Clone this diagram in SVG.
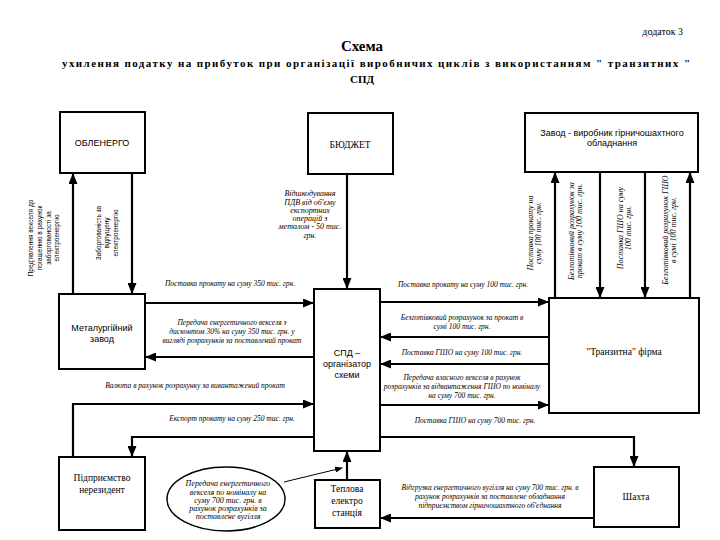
<svg xmlns="http://www.w3.org/2000/svg" width="720" height="540" viewBox="0 0 720 540">
<style>
.box{fill:#fff;stroke:#000;stroke-width:2}
.ln{fill:none;stroke:#000;stroke-width:2.2}
.lbl{font-family:"Liberation Serif",serif;font-style:italic;font-size:7.5px;text-anchor:middle;fill:#000}
.vl{font-family:"Liberation Serif",serif;font-style:italic;font-size:8px;text-anchor:middle;fill:#000}
.vs{font-family:"Liberation Sans",sans-serif;font-size:6.5px;text-anchor:middle;fill:#000}
.nd{font-family:"Liberation Sans",sans-serif;font-size:9px;text-anchor:middle;fill:#000}
.ns{font-family:"Liberation Serif",serif;font-size:9.5px;text-anchor:middle;fill:#000}
.tt{font-family:"Liberation Serif",serif;font-weight:bold;text-anchor:middle;fill:#000}
</style>
<defs>
<marker id="ar" markerUnits="userSpaceOnUse" markerWidth="11" markerHeight="9" refX="10" refY="4.5" orient="auto">
<path d="M0,0 L11,4.5 L0,9 z" fill="#000"/>
</marker>
<marker id="sm" markerUnits="userSpaceOnUse" markerWidth="8" markerHeight="6" refX="7" refY="3" orient="auto">
<path d="M0,0 L8,3 L0,6 z" fill="#000"/>
</marker>
</defs>
<rect width="720" height="540" fill="#fff"/>

<g id="title">
<text x="683" y="35" font-family="Liberation Serif,serif" font-size="10" text-anchor="end">додаток 3</text>
<text class="tt" x="362" y="51" font-size="15">Схема</text>
<text class="tt" x="376" y="67" font-size="11" textLength="628" lengthAdjust="spacing">ухилення податку на прибуток при організації виробничих циклів з використанням " транзитних "</text>
<text class="tt" x="362" y="83" font-size="11">СПД</text>
</g>

<g id="connectors">
<path class="ln" d="M73,294 V174" marker-end="url(#ar)"/>
<path class="ln" d="M132,173 V293" marker-end="url(#ar)"/>
<path class="ln" d="M347,174 V288" marker-end="url(#ar)"/>
<path class="ln" d="M555,298 V173" marker-end="url(#ar)"/>
<path class="ln" d="M600,172 V297" marker-end="url(#ar)"/>
<path class="ln" d="M645,172 V297" marker-end="url(#ar)"/>
<path class="ln" d="M690,298 V173" marker-end="url(#ar)"/>
<path class="ln" d="M145,303 H313" marker-end="url(#ar)"/>
<path class="ln" d="M314,357 H146" marker-end="url(#ar)"/>
<path class="ln" d="M73,457 V404 H313" marker-end="url(#ar)"/>
<path class="ln" d="M314,437 H132 V456" marker-end="url(#ar)"/>
<path class="ln" d="M380,302 H548" marker-end="url(#ar)"/>
<path class="ln" d="M549,337 H381" marker-end="url(#ar)"/>
<path class="ln" d="M549,364 H381" marker-end="url(#ar)"/>
<path class="ln" d="M380,405 H548" marker-end="url(#ar)"/>
<path class="ln" d="M380,437 H634 V466" marker-end="url(#ar)"/>
<path class="ln" d="M594,518 H381" marker-end="url(#ar)"/>
<path class="ln" d="M347,480 V452" marker-end="url(#ar)"/>
<path fill="none" stroke="#000" stroke-width="1" d="M284,482 L342,468" marker-end="url(#sm)"/>

<text class="vs" transform="translate(45,238) rotate(-90)"><tspan x="0" y="-12">Пред'явлення векселя до</tspan><tspan x="0" y="-3">погашенню в рахунок</tspan><tspan x="0" y="6">заборгованості за</tspan><tspan x="0" y="14">електроенергію</tspan></text>
<text class="vs" transform="translate(107,233) rotate(-90)"><tspan x="0" y="-6">Заборгованість за</tspan><tspan x="0" y="2">відпущену</tspan><tspan x="0" y="11">електроенергію</tspan></text>
<text class="vl" transform="translate(310,0)"><tspan x="0" y="196">Відшкодування</tspan><tspan x="0" y="205">ПДВ від об'єму</tspan><tspan x="0" y="213">експортних</tspan><tspan x="0" y="221">операцій з</tspan><tspan x="0" y="229">металом - 50 тис.</tspan><tspan x="0" y="238">грн.</tspan></text>
<text class="vl" transform="translate(534,233) rotate(-90)"><tspan x="0" y="-1">Поставка прокату на</tspan><tspan x="0" y="7">суму 100 тис. грн.</tspan></text>
<text class="vl" transform="translate(575,231) rotate(-90)"><tspan x="0" y="-1">Безготівковий розрахунок за</tspan><tspan x="0" y="7">прокат в суму 100 тис. грн.</tspan></text>
<text class="vl" transform="translate(624,228) rotate(-90)"><tspan x="0" y="-1">Поставка ГШО на суму</tspan><tspan x="0" y="7">100 тис. грн.</tspan></text>
<text class="vl" transform="translate(669,230) rotate(-90)"><tspan x="0" y="-1">Безготівковий розрахунок ГШО</tspan><tspan x="0" y="7">в сумі 100 тис. грн.</tspan></text>

<text class="lbl" x="230" y="286">Поставка прокату на суму 350 тис. грн.</text>
<text class="lbl"><tspan x="232" y="325">Передача енергетичного векселя з</tspan><tspan x="232" y="334">дисконтом 30% на суму 350 тис. грн. у</tspan><tspan x="232" y="343">вигляді розрахунків за поставлений прокат</tspan></text>
<text class="lbl" x="195" y="388">Валюта в рахунок розрахунку за вивантажений прокат</text>
<text class="lbl" x="232" y="421">Експорт прокату на суму 250 тис. грн.</text>
<text class="lbl" x="463" y="287">Поставка прокату на суму 100 тис. грн.</text>
<text class="lbl"><tspan x="462" y="320">Безготівковий розрахунок за прокат в</tspan><tspan x="462" y="329">сумі 100 тис. грн.</tspan></text>
<text class="lbl" x="462" y="355">Поставка ГШО на суму 100 тис. грн.</text>
<text class="lbl"><tspan x="462" y="380">Передача власного векселя в рахунок</tspan><tspan x="462" y="389">розрахунків за відвантаження ГШО по номіналу</tspan><tspan x="462" y="398">на суму 700 тис. грн.</tspan></text>
<text class="lbl" x="475" y="423">Поставка ГШО на суму 700 тис. грн.</text>
<text class="lbl"><tspan x="490" y="490">Відгрузка енергетичного вугілля на суму 700 тис. грн. в</tspan><tspan x="490" y="499">рахунок розрахунків за поставлене обладнання</tspan><tspan x="490" y="508">підприємством гірничошахтного об'єднання</tspan></text>
</g>

<g id="obl"><rect class="box" x="60" y="112" width="85" height="61"/><text class="nd" x="102" y="146">ОБЛЕНЕРГО</text></g>
<g id="budget"><rect class="box" x="308" y="113" width="85" height="61"/><text class="ns" x="350" y="148">БЮДЖЕТ</text></g>
<g id="zavod"><rect class="box" x="525" y="113" width="173" height="59"/><text class="nd" font-size="8" x="612" y="136">Завод - виробник гірничошахтного</text><text class="nd" font-size="8" x="612" y="146">обладнання</text></g>
<g id="metal"><rect class="box" x="59" y="294" width="86" height="75"/><text class="nd" x="102" y="331">Металургійний</text><text class="nd" x="102" y="342">завод</text></g>
<g id="spd"><rect class="box" x="314" y="289" width="66" height="162"/><text class="nd" x="347" y="356">СПД –</text><text class="nd" x="347" y="367">організатор</text><text class="nd" x="347" y="378">схеми</text></g>
<g id="tranz"><rect class="box" x="549" y="298" width="150" height="115"/><text class="ns" x="624" y="355">"Транзитна"  фірма</text></g>
<g id="nonres"><rect class="box" x="59" y="457" width="86" height="73"/><text class="ns" x="102" y="481">Підприємство</text><text class="ns" x="102" y="493">нерезидент</text></g>
<g id="tes"><rect class="box" x="315" y="480" width="65" height="48"/><text class="ns" x="347" y="492">Теплова</text><text class="ns" x="347" y="504">електро</text><text class="ns" x="347" y="516">станція</text></g>
<g id="shakhta"><rect class="box" x="594" y="467" width="85" height="60"/><text class="ns" x="636" y="500">Шахта</text></g>
<g id="note"><ellipse cx="226" cy="499" rx="59" ry="32" fill="#fff" stroke="#000" stroke-width="1.5"/>
<text class="vl" font-size="7.2"><tspan x="228" y="486">Передача енергетичного</tspan><tspan x="228" y="495">векселя по номіналу на</tspan><tspan x="228" y="503">суму 700 тис. грн. в</tspan><tspan x="228" y="511">рахунок розрахунків за</tspan><tspan x="228" y="519">поставлене вугілля</tspan></text></g>
</svg>
